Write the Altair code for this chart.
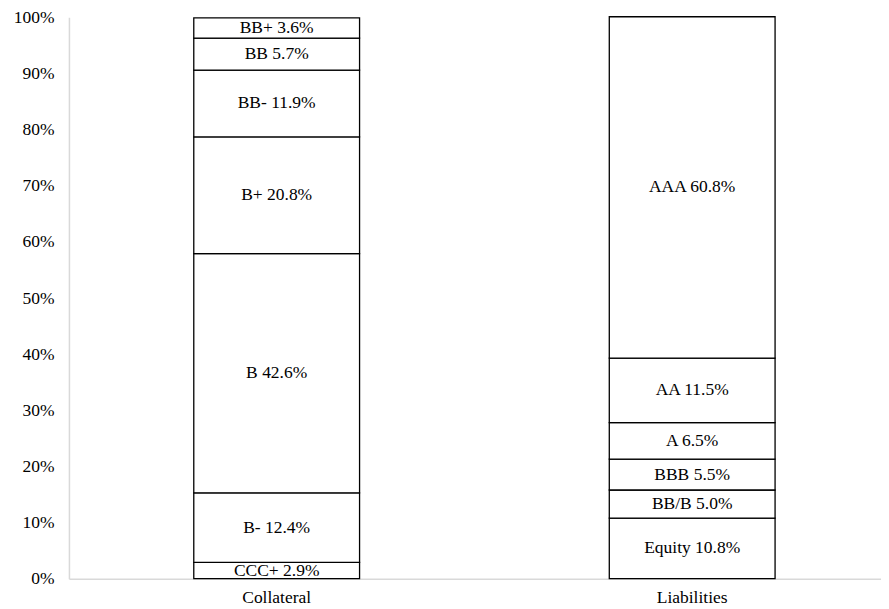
import altair as alt
import pandas as pd

groups = ["Collateral"] * 7 + ["Liabilities"] * 6
ratings = ["CCC+", "B-", "B", "B+", "BB-", "BB", "BB+",
           "Equity", "BB/B", "BBB", "A", "AA", "AAA"]
shares = [2.9, 12.4, 42.6, 20.8, 11.9, 5.7, 3.6,
          10.8, 5.0, 5.5, 6.5, 11.5, 60.8]
order = [0, 1, 2, 3, 4, 5, 6, 0, 1, 2, 3, 4, 5]
y_ticks = [0, 10, 20, 30, 40, 50, 60, 70, 80, 90, 100]

df = pd.DataFrame({"group": groups, "rating": ratings, "share": shares, "ord": order})
df["label"] = [f"{r} {s:.1f}%" for r, s in zip(ratings, shares)]

FONT = "Liberation Serif"
FS = 17.5

base = alt.Chart(df).transform_stack(
    stack="share", groupby=["group"], as_=["y0", "y1"],
    sort=[alt.SortField("ord", order="ascending")]
).transform_calculate(mid="(datum.y0 + datum.y1) / 2")

x_enc = alt.X("group:N", title=None, sort=["Collateral", "Liabilities"],
              scale=alt.Scale(paddingInner=0.601, paddingOuter=0.2777, align=0.541),
              axis=alt.Axis(labelAngle=0, ticks=False, labelPadding=10,
                            domainColor="#d9d9d9", domainWidth=1.5,
                            labelFont=FONT, labelFontSize=FS, labelColor="#000000"))

bars = base.mark_bar(fill="white", stroke="black", strokeWidth=1.3).encode(
    x=x_enc,
    y=alt.Y("y0:Q", title=None,
            scale=alt.Scale(domain=[0, 100], nice=False),
            axis=alt.Axis(values=y_ticks, labelExpr="datum.value + '%'",
                          ticks=False, grid=False, labelPadding=15,
                          domainColor="#d9d9d9", domainWidth=1.5,
                          labelFont=FONT, labelFontSize=FS, labelColor="#000000")),
    y2="y1:Q",
)

texts = base.mark_text(font=FONT, fontSize=FS, color="black", baseline="middle").encode(
    x=alt.X("group:N", sort=["Collateral", "Liabilities"]),
    y=alt.Y("mid:Q"),
    text="label:N",
)

chart = (bars + texts).properties(
    width=813, height=562,
    padding={"left": 5, "top": 0, "right": 0, "bottom": 0},
).configure(background="white").configure_view(stroke=None, strokeWidth=0)

chart.save("out.html", embed_options={"renderer": "svg", "actions": False})
